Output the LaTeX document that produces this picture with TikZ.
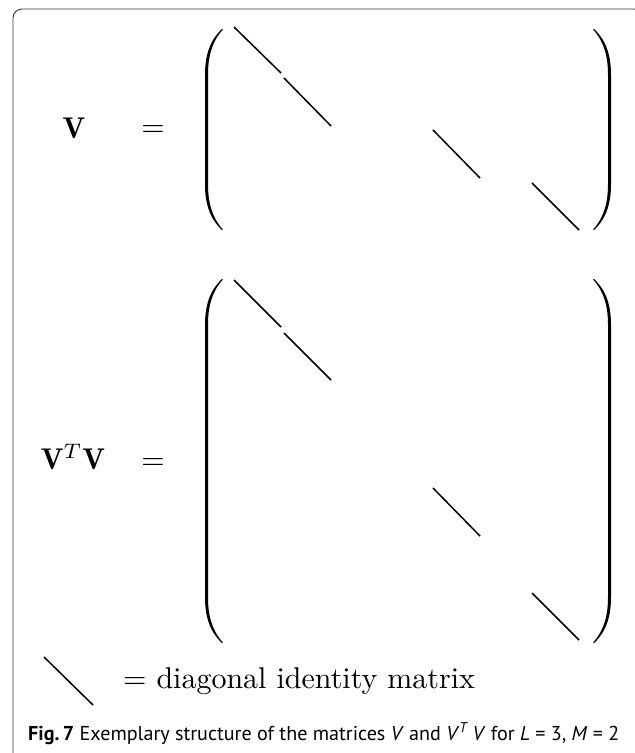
\documentclass[tikz,border=0pt]{standalone}
\usepackage{fontspec}
\usepackage{graphicx}
\newfontfamily\capfont{PT Sans}
\definecolor{framecol}{HTML}{3A3A3A}
\newcommand\DrawParen[5]{% #1 outer x, #2 tip x, #3 top y, #4 bottom y, #5 direction (1 left, -1 right)
  \fill[black] (#2,#3) .. controls ({#1+(#5)*4},{#3+12}) and (#1,{#3+28}) .. (#1,{#3+46})
    -- (#1,{#4-46}) .. controls (#1,{#4-28}) and ({#1+(#5)*4},{#4-12}) .. (#2,#4)
    -- ({#2+(#5)*0.9},{#4-0.5}) .. controls ({#1+(#5)*6.6},{#4-13}) and ({#1+(#5)*3},{#4-28}) .. ({#1+(#5)*3},{#4-46})
    -- ({#1+(#5)*3},{#3+46}) .. controls ({#1+(#5)*3},{#3+28}) and ({#1+(#5)*6.6},{#3+13}) .. ({#2+(#5)*0.9},{#3+0.5}) -- cycle;}
\tikzset{
  diagline/.style={line width=1.5pt, black},
  bigtext/.style={inner sep=0pt, anchor=base},
}
\begin{document}
\begin{tikzpicture}[x=1pt,y=-1pt]
\clip (0,0) rectangle (635,753);
\fill[white] (0,0) rectangle (635,753);
% frame
\draw[framecol, line width=0.9pt, rounded corners=9pt] (13,9) rectangle (643,800);

% ---- V block ----
\node[bigtext] (v) at (74,138) {\scalebox{3}{$\mathbf{V}$}};
\node[bigtext] (veq) at (153,136) {\scalebox{3}{$=$}};
\DrawParen{205}{222}{29}{230}{1}
\DrawParen{611}{594}{29}{230}{-1}
\coordinate (a1) at (234,27); \coordinate (a2) at (281,73);
\coordinate (a3) at (284,78); \coordinate (a4) at (331,126);
\coordinate (a5) at (433,130); \coordinate (a6) at (480,178);
\coordinate (a7) at (532,183); \coordinate (a8) at (579,230);
\draw[diagline] (a1) -- (a2);
\draw[diagline] (a3) -- (a4);
\draw[diagline] (a5) -- (a6);
\draw[diagline] (a7) -- (a8);

% ---- V^T V block ----
\node[bigtext] (vtv) at (73,469) {\scalebox{3}{$\mathbf{V}^T\mathbf{V}$}};
\node[bigtext] (vtveq) at (153,469) {\scalebox{3}{$=$}};
\DrawParen{205}{222}{279}{643}{1}
\DrawParen{611}{594}{279}{643}{-1}
\coordinate (b1) at (234,280); \coordinate (b2) at (281,327);
\coordinate (b3) at (284,333); \coordinate (b4) at (331,380);
\coordinate (b5) at (433,488); \coordinate (b6) at (480,536);
\coordinate (b7) at (532,593); \coordinate (b8) at (579,640);
\draw[diagline] (b1) -- (b2);
\draw[diagline] (b3) -- (b4);
\draw[diagline] (b5) -- (b6);
\draw[diagline] (b7) -- (b8);

% ---- legend ----
\coordinate (l1) at (44,657); \coordinate (l2) at (93,705);
\draw[diagline] (l1) -- (l2);
\node[inner sep=0pt, anchor=base west] (legend) at (123,688.5) {\scalebox{3}{$=$ diagonal identity matrix}};

% ---- caption ----
\node[inner sep=0pt, anchor=base west] (cap) at (28,740) {\resizebox{591pt}{!}{\capfont{\bfseries Fig.\,7} Exemplary structure of the matrices \textit{V} and \textit{V}\textsuperscript{\textit{T}}\,\textit{V} for \textit{L} = 3, \textit{M} = 2}};
\end{tikzpicture}
\end{document}
